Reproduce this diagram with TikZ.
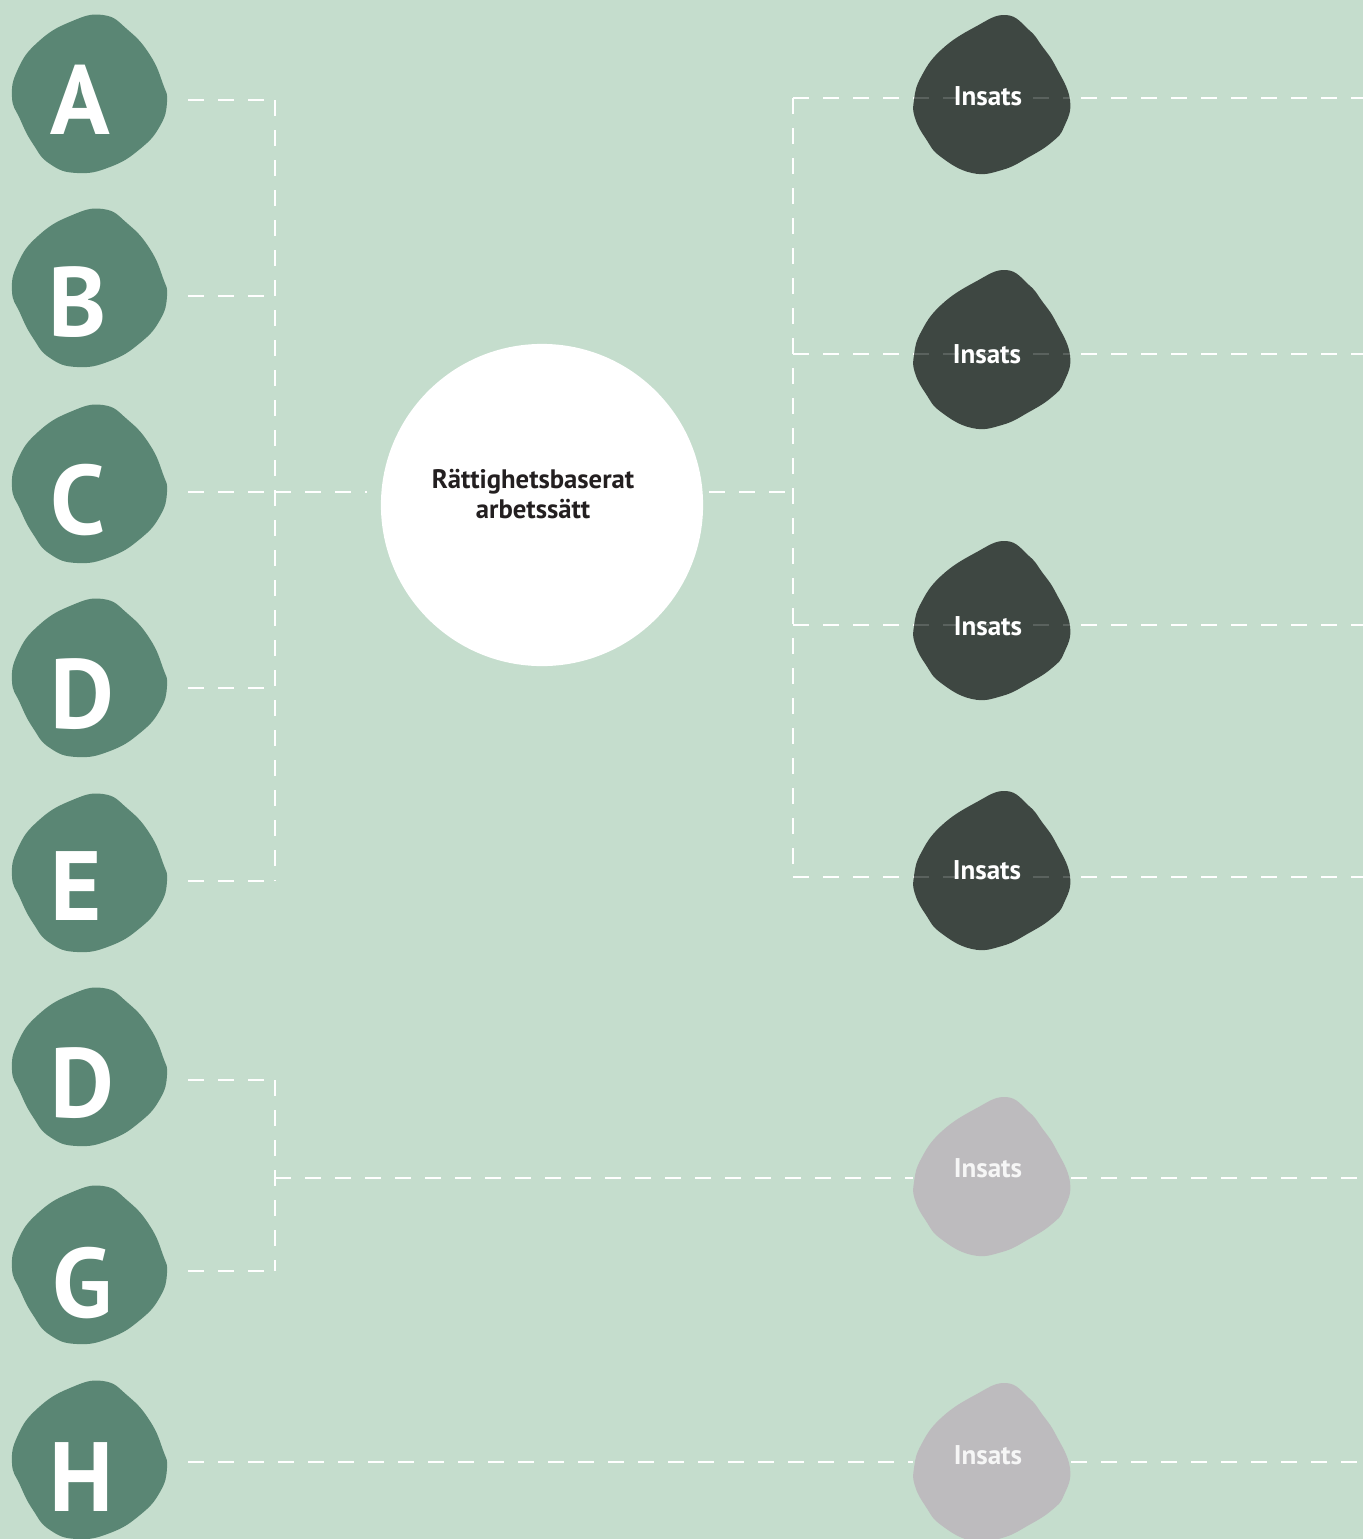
\documentclass[tikz,border=0pt]{standalone}
\usepackage{fontspec}
\setmainfont{PT Sans}
\definecolor{bg}{HTML}{C5DDCD}
\definecolor{lgreen}{HTML}{5A8674}
\definecolor{dgray}{HTML}{3E4742}
\definecolor{lgray}{HTML}{BDBBBE}
\definecolor{ctext}{HTML}{231F20}
\newcommand\greenblob[1]{\fill[lgreen, shift={#1}] plot[smooth cycle, tension=0.8] coordinates {(-76,3) (-70,-25) (-50,-52) (-18,-72) (15,-79) (40,-64) (62,-39) (75,-10) (79,8) (72,32) (52,55) (22,73) (-11,79) (-38,70) (-55,50) (-68,25)};}
\newcommand\roundblob[2]{\fill[#1, shift={#2}] plot[smooth cycle, tension=0.75] coordinates {(14,-79) (-17,-67) (-51,-44) (-71,-17) (-78,6) (-77,24) (-66,45) (-51,63) (-20,79) (10,76) (37,63) (60,48) (72,33) (78,6) (64,-27) (50,-48) (37,-64)};}
\tikzset{
 conn/.style={draw=white, line width=0.025cm, dash pattern=on 0.16cm off 0.14cm},
 faint/.style={draw=white, line width=0.025cm, dash pattern=on 0.16cm off 0.14cm, opacity=0.15},
 lport/.style={circle, minimum size=1.98cm, inner sep=0pt},
 iport/.style={circle, minimum size=1.56cm, inner sep=0pt},
 cport/.style={circle, minimum size=3.22cm, inner sep=0pt},
 letter/.style={text=white, font=\fontsize{28}{28}\selectfont\bfseries, inner sep=0pt, text depth=0pt},
 ins/.style={text=white, font=\fontsize{7.7}{8}\selectfont\bfseries, inner sep=0pt},
 insg/.style={text=white!93!gray, font=\fontsize{7.7}{8}\selectfont\bfseries, inner sep=0pt},
 ctr/.style={text=ctext, font=\fontsize{7.6}{8.6}\selectfont\bfseries, align=center, inner sep=0pt},
}
\begin{document}
\begin{tikzpicture}[x=0.01cm, y=-0.01cm]
\useasboundingbox (0,0) rectangle (1363,1539);
\fill[bg] (0,0) rectangle (1363,1539);

% anchor nodes
\node[lport] (A) at (88,100) {};
\node[lport] (B) at (88,296) {};
\node[lport] (C) at (88,492) {};
\node[lport] (D) at (88,688) {};
\node[lport] (E) at (88,881) {};
\node[lport] (D2) at (88,1080) {};
\node[lport] (G) at (88,1271) {};
\node[lport] (H) at (88,1462) {};
\node[cport] (R) at (542,492) {};
\node[iport] (I1) at (992,98) {};
\node[iport] (I2) at (992,354) {};
\node[iport] (I3) at (992,625) {};
\node[iport] (I4) at (992,877) {};
\node[iport] (Gr1) at (992,1178) {};
\node[iport] (Gr2) at (992,1462) {};
\coordinate (lbx) at (275,0);
\coordinate (rbx) at (793,0);
\coordinate (redge) at (1363,0);

% connectors
\foreach \n in {A,B,C,D,E,D2,G}{
  \draw[conn] (\n.east) -- (\n.east -| lbx);
}
\draw[conn] (A.east -| lbx) -- (E.east -| lbx);
\draw[conn, shorten >=0.13cm] (C.east -| lbx) -- (R.west);
\draw[conn, shorten <=0.05cm] (R.east) -- (R.east -| rbx);
\draw[conn] (I1.west -| rbx) -- (I4.west -| rbx);
\foreach \n in {I1,I2,I3,I4}{
  \draw[conn] (\n.west -| rbx) -- (\n.west);
  \draw[conn, shorten <=0.1cm] (\n.east) -- (\n.east -| redge);
}
\draw[conn] (D2.east -| lbx) -- (G.east -| lbx);
\draw[conn] (Gr1.west -| lbx) -- (Gr1.west);
\draw[conn] (Gr1.east) -- (Gr1.east -| redge);
\draw[conn] (H.east) -- (Gr2.west);
\draw[conn] (Gr2.east) -- (Gr2.east -| redge);

% blobs
\greenblob{(88,94)}
\greenblob{(88,288)}
\greenblob{(88,484)}
\greenblob{(88,678)}
\greenblob{(88,873)}
\greenblob{(88,1067)}
\greenblob{(88,1265)}
\greenblob{(88,1460)}
\fill[white] (542,505) circle[radius=1.61cm];
\roundblob{dgray}{(992,94)}
\roundblob{dgray}{(992,349)}
\roundblob{dgray}{(992,620)}
\roundblob{dgray}{(992,870)}
\roundblob{lgray}{(992,1176)}
\roundblob{lgray}{(992,1462)}
\foreach \n in {I1,I2,I3,I4}{
  \draw[faint] (\n.west) -- (\n.east);
}

% texts
\node[letter] (tA) at (80,100) {A};
\node[letter] (tB) at (78,302) {B};
\node[letter] (tC) at (78,499) {C};
\node[letter] (tD) at (82,694) {D};
\node[letter] (tE) at (76,886) {E};
\node[letter] (tD2) at (82,1083) {D};
\node[letter] (tG) at (82,1282) {G};
\node[letter] (tH) at (82,1477) {H};
\node[ctr] (tR) at (533,494) {Rättighetsbaserat\\arbetssätt};
\node[ins] (t1) at (988,96) {Insats};
\node[ins] (t2) at (987,354) {Insats};
\node[ins] (t3) at (988,626) {Insats};
\node[ins] (t4) at (987,870) {Insats};
\node[insg] (t5) at (988,1168) {Insats};
\node[insg] (t6) at (988,1455) {Insats};
\end{tikzpicture}
\end{document}
